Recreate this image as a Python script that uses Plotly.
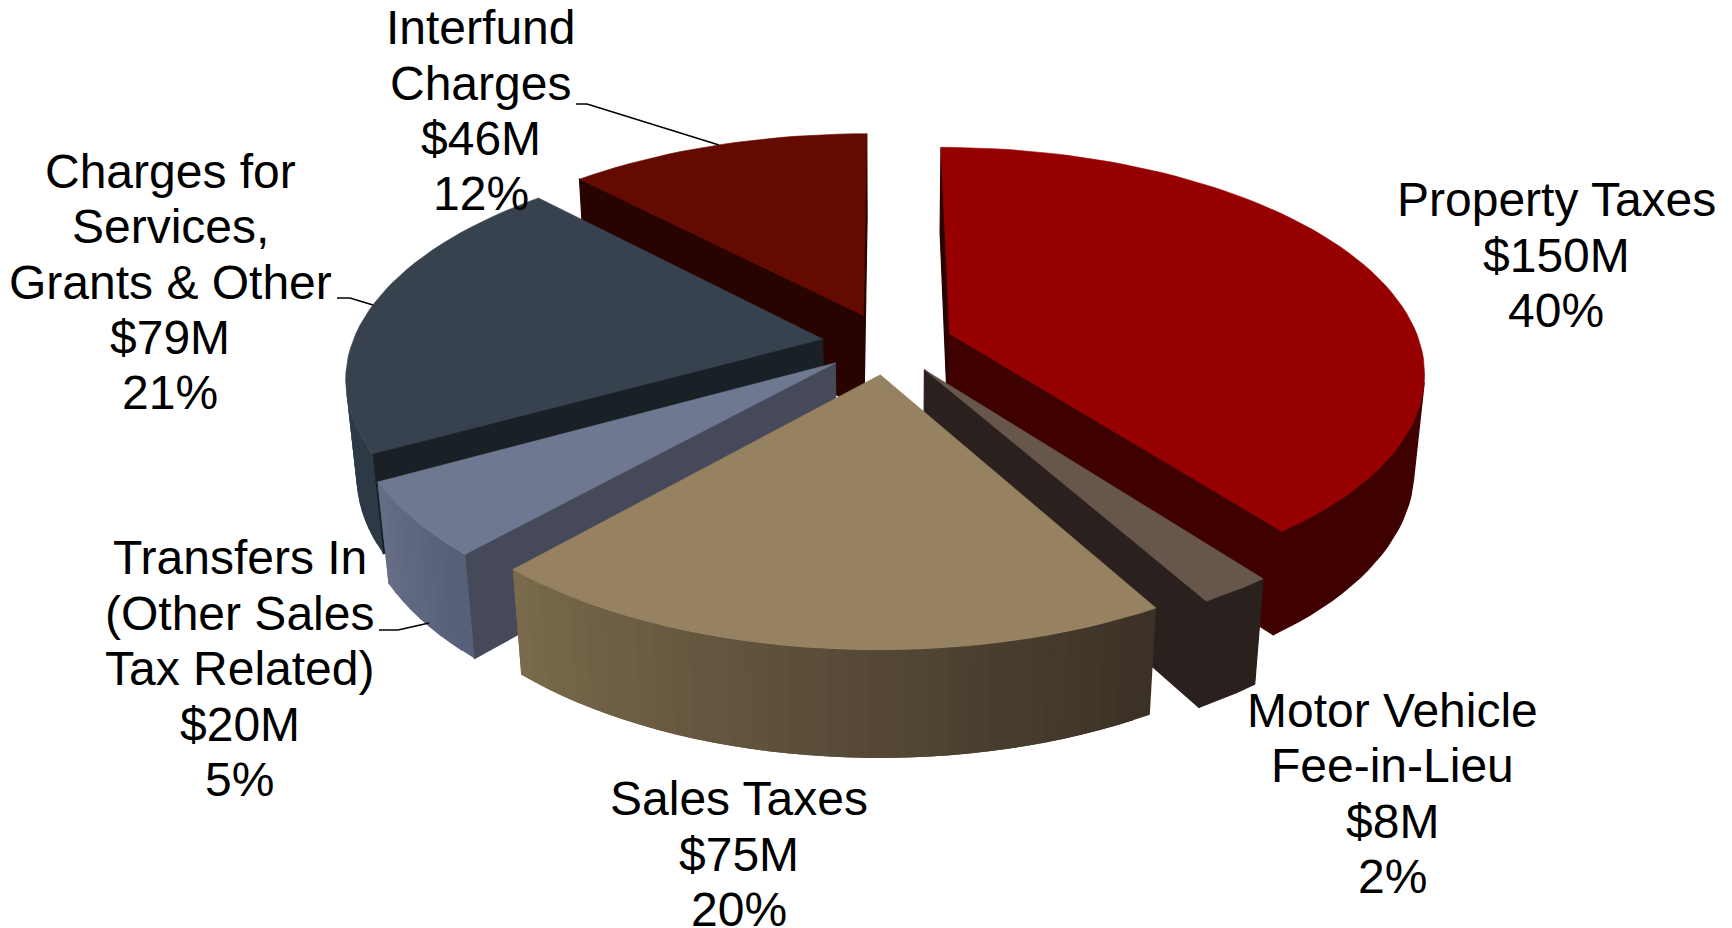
import numpy as np
import plotly.graph_objects as go

# ---- data ----
categories = [["Property Taxes"], ["Motor Vehicle", "Fee-in-Lieu"], ["Sales Taxes"],
              ["Transfers In", "(Other Sales", "Tax Related)"],
              ["Charges for", "Services,", "Grants & Other"], ["Interfund", "Charges"]]
values = [150, 8, 75, 20, 79, 46]
percents = [40, 2, 20, 5, 21, 12]

# ---- style ----
top_colors = ["#960000", "#66564C", "#968160", "#6E7890", "#38424F", "#640A00"]
start_wall = ["#2A0000", "#2A201E", "#46495A", "#46495A", "#1A2126", "#280400"]
end_wall = ["#3F0000", "#2A201E", "#2A201E", "#464C5E", "#1A2126", "#280400"]
outer_a = ["#3F0000", "#2A201E", "#3B3126", "#566078", "#2D3A46", "#3A0500"]
outer_b = ["#3F0000", "#2A201E", "#7A6A4C", "#656E84", "#33414E", "#3A0500"]
draw_order = [5, 4, 3, 0, 1, 2]
label_x = [1409, 1261, 669, 217, 154, 435]
label_y = [181, 643, 723, 505, 155, 25]
W, H = 1732, 928
SC = 1732 / 1568
explode = 0.14
wall_h = 0.232
elev = np.radians(27.8)
cam_dist = 5.49
scale_px = 426 * SC
cx0, cy0 = 803.5 * SC, 311 * SC
start_deg = 0.0


def proj(x, y, z):
    s, c = np.sin(elev), np.cos(elev)
    sx, sy, d = x, y * s + z * c, y * c - z * s
    w = cam_dist / (cam_dist + d)
    return cx0 + scale_px * sx * w, cy0 - scale_px * sy * w


def rgb(h):
    return np.array([int(h[i:i + 2], 16) for i in (1, 3, 5)], float)


def lerp(a, b, t):
    return "rgb(%d,%d,%d)" % tuple(rgb(a) * (1 - t) + rgb(b) * t)


def poly(fig, pts, color, edge=0.6):
    xs = [p[0] for p in pts] + [pts[0][0]]
    ys = [p[1] for p in pts] + [pts[0][1]]
    fig.add_trace(go.Scatter(x=xs, y=ys, mode="lines", fill="toself", fillcolor=color,
                             line=dict(color=color, width=edge), hoverinfo="skip", showlegend=False))


def visible(pts):
    a = 0.0
    for p, q in zip(pts, pts[1:] + pts[:1]):
        a += p[0] * q[1] - q[0] * p[1]
    return a < 0


fig = go.Figure()
total = sum(values)
starts = np.cumsum([0] + values[:-1]) * 360 / total + start_deg
for k in draw_order:
    sweep = 360 * values[k] / total
    th = np.radians(np.linspace(starts[k], starts[k] + sweep, max(3, int(sweep / 2)) + 1))
    mid = np.radians(starts[k] + sweep / 2)
    ox, oy = explode * np.sin(mid), explode * np.cos(mid)
    T = [proj(ox + np.sin(t), oy + np.cos(t), 0) for t in th]
    B = [proj(ox + np.sin(t), oy + np.cos(t), -wall_h) for t in th]
    A, Ab = proj(ox, oy, 0), proj(ox, oy, -wall_h)
    q = [A, T[0], B[0], Ab]
    if visible(q):
        poly(fig, q, start_wall[k], edge=1.2)
    q = [T[-1], A, Ab, B[-1]]
    if visible(q):
        poly(fig, q, end_wall[k], edge=1.2)
    n = len(th) - 1
    if outer_a[k] == outer_b[k]:
        # one colour: a single polygon over the camera-facing part of the rim
        vis = [s for s in range(n) if visible([T[s], T[s + 1], B[s + 1], B[s]])]
        if vis:
            i0, i1 = vis[0], vis[-1] + 1
            poly(fig, T[i0:i1 + 1] + B[i0:i1 + 1][::-1], outer_a[k], edge=1.2)
    else:
        # gradient: each strip overlaps the next so that no seam shows
        for s in range(n):
            if visible([T[s], T[s + 1], B[s + 1], B[s]]):
                e = min(s + 2, n)
                poly(fig, T[s:e + 1] + B[s:e + 1][::-1], lerp(outer_a[k], outer_b[k], s / max(1, n - 1)), edge=0)
    poly(fig, [A] + T, top_colors[k])

ann = []
for k, lines in enumerate(categories):
    full = lines + [f"${values[k]}M", f"{percents[k]}%"]
    for m, t in enumerate(full):
        ann.append(dict(text=t, xref="x", yref="y", x=label_x[k] * SC, y=(label_y[k] + m * 50.15) * SC,
                        xanchor="center", yanchor="middle", showarrow=False,
                        font=dict(family="Liberation Sans", size=48, color="black")))

leaders = [[(576, 104), (587, 104), (719, 145)], [(337, 298), (350, 298), (373, 305)],
           [(379, 630), (398, 630), (429, 623)]]
shapes = []
for L in leaders:
    for a, b in zip(L[:-1], L[1:]):
        shapes.append(dict(type="line", xref="x", yref="y", x0=a[0], x1=b[0],
                           y0=a[1], y1=b[1], line=dict(color="black", width=1.5)))

fig.update_layout(
    width=W, height=H, margin=dict(l=0, r=0, t=0, b=0), showlegend=False,
    paper_bgcolor="white", plot_bgcolor="white", annotations=ann, shapes=shapes,
    xaxis=dict(visible=False, range=[0, W], fixedrange=True),
    yaxis=dict(visible=False, range=[H, 0], fixedrange=True),
)
fig.write_html("out.html", config=dict(displayModeBar=False), post_script="document.body.style.margin='0';")
